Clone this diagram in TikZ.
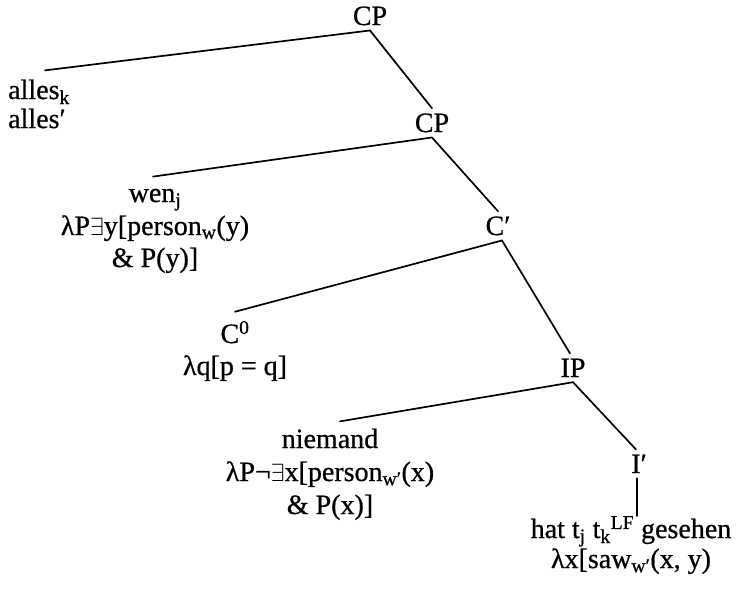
\documentclass[tikz,border=0pt]{standalone}
\usepackage{fontspec}
\setmainfont{Liberation Serif}[FakeBold=0.7]
\newcommand{\lsb}[1]{\textsubscript{#1}}
\newcommand{\lsp}[1]{\textsuperscript{#1}}
\begin{document}
\begin{tikzpicture}[x=1pt,y=-1pt,
  cat/.style={inner sep=5pt, anchor=base, font=\fontsize{28}{32}\selectfont},
  txt/.style={inner sep=0pt, anchor=base, font=\fontsize{28}{32}\selectfont},
  edge/.style={line width=1.7pt, line cap=round}]
\path[use as bounding box] (0,0) rectangle (749,595);
% category nodes
\node[cat] (cp1)  at (370,25)  {CP};
\node[cat] (cp2)  at (432,132) {CP};
\node[cat] (cbar) at (498,235) {C′};
\node[cat] (ip)   at (573,377) {IP};
\node[cat] (ibar) at (639,473) {I′};
% alles
\node[txt, anchor=base west] (alles1) at (8,99)  {alles\lsb{k}};
\node[txt, anchor=base west] (alles2) at (8,128) {alles′};
% wen
\node[txt] (wen1) at (155,202) {wen\lsb{j}};
\node[txt] (wen2) at (155,235) {λP$\exists$y[person\lsb{w}(y)};
\node[txt] (wen3) at (155,267) {\& P(y)]};
% C0
\node[txt] (c0a) at (235,343) {C\lsp{0}};
\node[txt] (c0b) at (235,375) {λq[p = q]};
% niemand
\node[txt] (nie1) at (330,448) {niemand};
\node[txt] (nie2) at (330,481) {λP¬$\exists$x[person\lsb{w′}(x)};
\node[txt] (nie3) at (330,514) {\& P(x)]};
% hat
\node[txt] (hat1) at (631,538) {hat t\lsb{j} t\lsb{k}\lsp{LF} gesehen};
\node[txt] (hat2) at (631,568) {λx[saw\lsb{w′}(x, y)};
% connectors
\draw[edge] ([xshift=6pt,yshift=9pt]alles1.north) -- (cp1.south) -- (cp2.north);
\draw[edge] ([xshift=-2pt,yshift=12pt]wen1.north) -- (cp2.south) -- (cbar.north);
\draw[edge] ([yshift=9pt]c0a.north) -- ([xshift=4pt]cbar.south) -- ([xshift=-3pt]ip.north);
\draw[edge] ([xshift=10pt,yshift=7pt]nie1.north) -- (ip.south) -- ([xshift=-3pt]ibar.north);
\draw[edge] ([xshift=-2pt]ibar.south) -- ([xshift=-2pt]ibar.south |- hat1.north);
\end{tikzpicture}
\end{document}
